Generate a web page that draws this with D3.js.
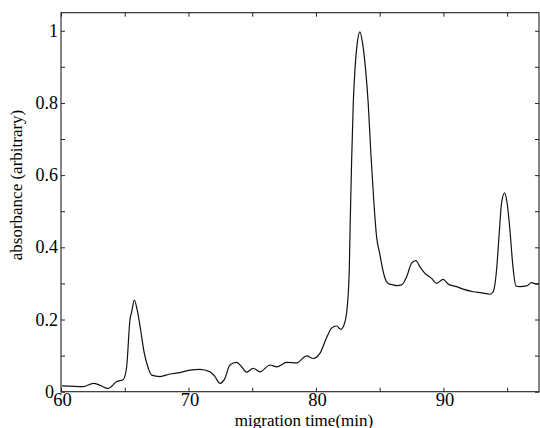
<!DOCTYPE html>
<html><head><meta charset="utf-8">
<script src="https://cdn.jsdelivr.net/npm/d3@7"></script>
<style>body{margin:0;background:#fff}svg{display:block}text{font-family:"Liberation Serif","Times New Roman",serif;fill:#000}</style>
</head><body>
<svg id="c" width="540" height="428"></svg>
<script>
const time = [60.08,61.75,62.53,63.06,63.69,64.37,64.89,65.15,65.41,65.55,65.75,65.98,66.25,66.51,66.85,67.11,67.76,68.55,69.33,70.12,70.90,71.69,72.08,72.47,72.86,73.25,73.78,74.17,74.56,75.08,75.61,76.39,76.92,77.70,78.49,79.27,79.79,80.31,80.84,81.23,81.62,81.94,82.20,82.41,82.61,82.69,82.80,82.93,83.06,83.24,83.45,83.66,83.90,84.10,84.31,84.55,84.76,85.02,85.23,85.41,85.67,86.06,86.35,86.72,87.11,87.51,87.84,88.16,88.55,89.07,89.47,89.98,90.38,91.04,91.55,92.34,93.00,93.65,93.91,94.17,94.38,94.56,94.80,95.00,95.22,95.43,95.69,96.00,96.53,96.92,97.31,97.49];
const absorbance = [0.016,0.014,0.023,0.018,0.009,0.028,0.034,0.069,0.199,0.222,0.254,0.226,0.171,0.111,0.065,0.046,0.042,0.049,0.053,0.060,0.062,0.055,0.042,0.023,0.037,0.074,0.081,0.069,0.054,0.065,0.055,0.074,0.069,0.081,0.080,0.099,0.092,0.106,0.150,0.176,0.182,0.173,0.185,0.22,0.33,0.47,0.64,0.80,0.891,0.965,0.997,0.965,0.891,0.80,0.66,0.522,0.429,0.38,0.34,0.315,0.300,0.296,0.294,0.296,0.318,0.356,0.363,0.346,0.328,0.314,0.300,0.311,0.298,0.291,0.284,0.277,0.274,0.270,0.277,0.337,0.439,0.522,0.551,0.522,0.448,0.356,0.293,0.291,0.293,0.302,0.298,0.300];
const xMajorTicks = [60,70,80,90];
const xMinorTicks = [65,75,85,95];
const yTicks = [0,0.1,0.2,0.3,0.4,0.5,0.6,0.7,0.8,0.9,1.0];
const yLabels = [0,0.2,0.4,0.6,0.8,1];

const svg = d3.select("#c");
const L=61,R=539,T=12.7,B=391.7;
const x = d3.scaleLinear().domain([60,97.5]).range([L,R]);
const y = d3.scaleLinear().domain([0,1.05]).range([B,T]);

svg.append("rect").attr("x",L).attr("y",T).attr("width",R-L).attr("height",B-T)
  .attr("fill","none").attr("stroke","#222").attr("stroke-width",1.1);

const allX = xMajorTicks.concat(xMinorTicks);
const style = g=>{g.select(".domain").remove();g.selectAll("line").attr("stroke","#222");};
svg.append("g").attr("transform",`translate(0,${B})`)
  .call(d3.axisBottom(x).tickValues(allX).tickSize(-4).tickFormat("")).call(style);
svg.append("g").attr("transform",`translate(0,${T})`)
  .call(d3.axisTop(x).tickValues(allX).tickSize(-4).tickFormat("")).call(style);
svg.append("g").attr("transform",`translate(${L},0)`)
  .call(d3.axisLeft(y).tickValues(yTicks).tickSize(-4).tickFormat("")).call(style);
svg.append("g").attr("transform",`translate(${R},0)`)
  .call(d3.axisRight(y).tickValues(yTicks).tickSize(-4).tickFormat("")).call(style);

svg.selectAll(".xl").data(xMajorTicks).enter().append("text")
  .attr("x",d=>x(d)+1.5).attr("y",B+14.5).attr("text-anchor","middle")
  .attr("font-size",18.5).text(d=>d);
svg.selectAll(".yl").data(yLabels).enter().append("text")
  .attr("x",d=>d===0?54:58).attr("y",d=>y(d)+6).attr("text-anchor","end")
  .attr("font-size",18).text(d=>d);

svg.append("text").attr("x",304).attr("y",425.5).attr("text-anchor","middle")
  .attr("font-size",17).text("migration time(min)");
svg.append("text").attr("transform","translate(22,185) rotate(-90)").attr("text-anchor","middle")
  .attr("font-size",17).text("absorbance (arbitrary)");

const pts = time.map((t,i)=>[t,absorbance[i]]);
svg.append("path").datum(pts)
  .attr("d",d3.line().x(d=>x(d[0])).y(d=>y(d[1])).curve(d3.curveMonotoneX))
  .attr("fill","none").attr("stroke","#111").attr("stroke-width",1.2).attr("stroke-linejoin","round");
</script>
</body></html>
